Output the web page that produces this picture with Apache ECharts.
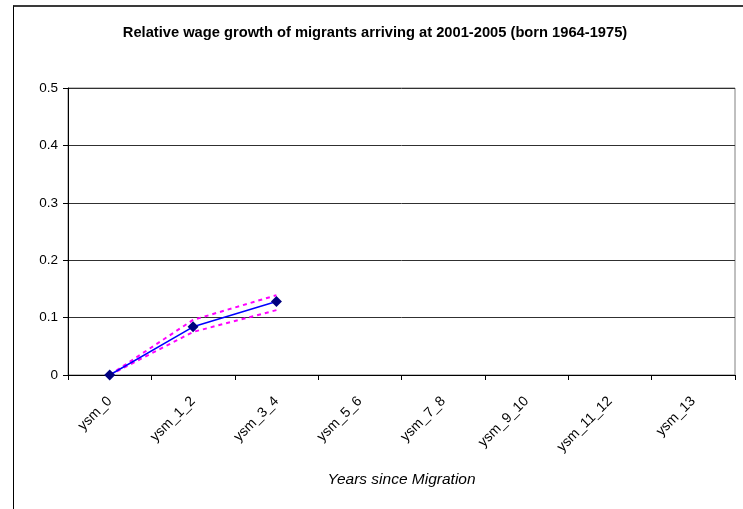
<!DOCTYPE html>
<html>
<head>
<meta charset="utf-8">
<script src="https://cdn.jsdelivr.net/npm/echarts@6/dist/echarts.min.js"></script>
<style>
  html, body { margin: 0; padding: 0; background: #fff; }
  #chart { width: 743px; height: 509px; }
  #frame { position: absolute; left: 13px; top: 5px; width: 730px; height: 504px; border-left: 1px solid #000; border-top: 2px solid #3a3a3a; box-sizing: border-box; pointer-events: none; }
</style>
</head>
<body>
<div id="chart"></div>
<div id="frame"></div>
<script>
// Years-since-migration groups
const categories = ['ysm_0', 'ysm_1_2', 'ysm_3_4', 'ysm_5_6', 'ysm_7_8', 'ysm_9_10', 'ysm_11_12', 'ysm_13'];
// Estimated relative wage growth and its confidence band
const growth = [0, 0.084, 0.128, null, null, null, null, null];
const upperBound = [0, 0.096, 0.139, null, null, null, null, null];
const lowerBound = [0, 0.075, 0.113, null, null, null, null, null];
const yTicks = [0, 0.1, 0.2, 0.3, 0.4, 0.5];

const FONT = 'Liberation Sans, Arial, sans-serif';

const chart = echarts.init(document.getElementById('chart'), null, { renderer: 'canvas' });
chart.setOption({
  animation: false,
  backgroundColor: '#fff',
  title: {
    text: 'Relative wage growth of migrants arriving at 2001-2005 (born 1964-1975)',
    left: 370,
    textAlign: 'center',
    top: 20,
    textStyle: { fontFamily: FONT, fontWeight: 'bold', fontSize: 14.7, color: '#000' }
  },
  grid: { left: 68, right: 8, top: 88, bottom: 134, show: true, borderColor: '#808080', borderWidth: 1, backgroundColor: 'transparent' },
  xAxis: {
    type: 'category',
    data: categories,
    boundaryGap: true,
    name: 'Years since Migration',
    nameLocation: 'middle',
    nameGap: 97,
    nameTextStyle: { fontFamily: FONT, fontStyle: 'italic', fontSize: 15.5, color: '#000' },
    axisLine: { lineStyle: { color: '#000', width: 1 } },
    axisTick: { show: true, length: 5, lineStyle: { color: '#000' } },
    axisLabel: { rotate: 45, margin: 24, fontFamily: FONT, fontSize: 14, color: '#000', interval: 0 }
  },
  yAxis: {
    type: 'value',
    min: 0,
    max: yTicks[yTicks.length - 1],
    interval: 0.1,
    axisLine: { show: true, lineStyle: { color: '#000', width: 1 } },
    axisTick: { show: true, length: 5, lineStyle: { color: '#000' } },
    axisLabel: {
      margin: 10,
      fontFamily: FONT, fontSize: 13.5, color: '#000',
      formatter: v => (v === 0 ? '0' : v.toFixed(1))
    },
    splitLine: { show: true, lineStyle: { color: '#303030', width: 1 } }
  },
  series: [
    {
      name: 'upper',
      type: 'line',
      data: upperBound,
      symbol: 'none',
      lineStyle: { color: '#ff00ff', width: 2, type: [4, 4] },
      z: 2
    },
    {
      name: 'lower',
      type: 'line',
      data: lowerBound,
      symbol: 'none',
      lineStyle: { color: '#ff00ff', width: 2, type: [4, 4] },
      z: 2
    },
    {
      name: 'growth',
      type: 'line',
      data: growth,
      symbol: 'diamond',
      symbolSize: 11,
      itemStyle: { color: '#000080' },
      lineStyle: { color: '#0000ff', width: 1.5 },
      z: 3
    }
  ]
});
</script>
</body>
</html>
